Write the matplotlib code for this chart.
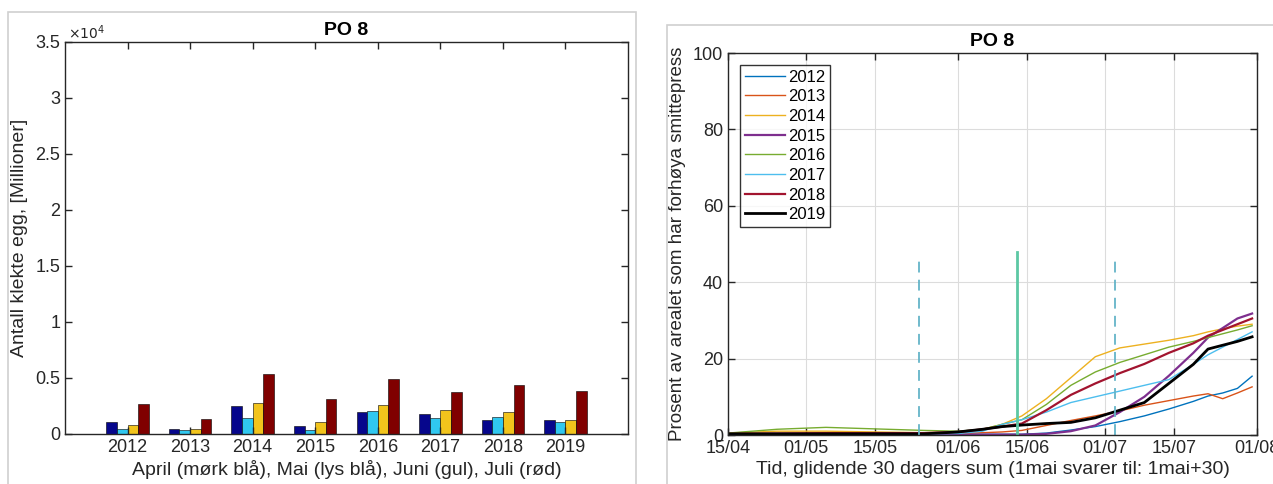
import numpy as np
import pandas as pd
import matplotlib
matplotlib.use("Agg")
import matplotlib.pyplot as plt
import matplotlib.dates as mdates
from matplotlib.patches import Rectangle
from matplotlib.ticker import FuncFormatter

plt.rcParams['font.family'] = ['Liberation Sans', 'DejaVu Sans']
plt.rcParams['font.size'] = 13

# --- left panel: hatched eggs per month (millions) ---
years = ['2012', '2013', '2014', '2015', '2016', '2017', '2018', '2019']
april = [1040, 450, 2530, 740, 1960, 1790, 1220, 1220]
mai = [480, 390, 1430, 390, 2020, 1430, 1520, 1070]
juni = [770, 450, 2770, 1040, 2560, 2170, 1960, 1220]
juli = [2680, 1340, 5390, 3130, 4940, 3720, 4400, 3870]
month_colors = ['#06068c', '#30c8f0', '#f2c41c', '#800000']

# --- right panel: % of area with elevated infection pressure ---
start = pd.Timestamp('2014-04-15')
days = [0, 10, 20, 30, 40, 47, 52, 56, 60, 65, 70, 75, 80, 85, 90, 95, 98, 101, 104, 107]
pct = {
    '2012': [0.2, 0.2, 0.2, 0.2, 0.2, 0.2, 0.2, 0.2, 0.2, 0.5, 1.3, 2.2, 3.5, 5.0, 6.8, 8.8, 10.2, 11.0, 12.2, 15.4],
    '2013': [0.3, 0.3, 0.3, 0.3, 0.3, 0.4, 0.6, 0.8, 1.2, 2.5, 3.8, 5.0, 6.3, 7.8, 9.0, 10.2, 10.8, 9.5, 11.0, 12.6],
    '2014': [0.5, 1.0, 1.0, 0.8, 0.6, 0.8, 1.5, 2.8, 5.0, 9.5, 15.0, 20.5, 22.8, 23.8, 24.8, 26.0, 27.0, 27.8, 28.5, 29.0],
    '2015': [0.1, 0.1, 0.1, 0.1, 0.1, 0.1, 0.1, 0.1, 0.1, 0.3, 1.0, 2.5, 6.0, 10.0, 15.5, 21.5, 25.5, 28.0, 30.5, 31.8],
    '2016': [0.5, 1.5, 2.0, 1.6, 1.2, 1.0, 1.5, 2.8, 4.0, 8.0, 13.0, 16.5, 19.0, 21.0, 23.0, 24.5, 25.5, 26.5, 27.5, 28.6],
    '2017': [0.2, 0.2, 0.2, 0.2, 0.3, 0.4, 1.0, 2.8, 4.0, 6.0, 8.5, 10.0, 11.5, 13.0, 14.5, 18.5, 21.0, 23.0, 25.0, 27.0],
    '2018': [0.3, 0.4, 0.5, 0.5, 0.5, 0.8, 1.5, 2.2, 3.0, 6.5, 10.5, 13.5, 16.2, 18.6, 21.5, 24.0, 26.0, 27.5, 29.0, 30.5],
    '2019': [0.3, 0.3, 0.3, 0.3, 0.3, 0.8, 1.5, 2.2, 2.6, 3.0, 3.3, 4.5, 6.5, 8.5, 13.5, 18.5, 22.5, 23.5, 24.5, 25.7],
}
line_colors = ['#0072BD', '#D95319', '#EDB120', '#7E2F8E', '#77AC30', '#4DBEEE', '#A2142F', '#000000']
line_widths = [1.0, 1.0, 1.0, 1.6, 1.0, 1.0, 1.6, 2.0]

# vertical marker lines (day offset, height, style)
vline_days = [39, 59, 79]
vline_top = [46, 48, 46]
vline_style = ['--', '-', '--']
vline_color = ['#64b4c8', '#5cc8a4', '#64b4c8']
vline_lw = [1.3, 2.0, 1.3]

W, H = 1273, 484
fig = plt.figure(figsize=(W / 100, H / 100), dpi=100)

# grey panel frames
fig.patches.append(Rectangle((8 / W, -0.1), 628 / W, 1.1 - 12 / H, transform=fig.transFigure,
                             fill=False, ec='#d0d0d0', lw=1.2))
fig.patches.append(Rectangle((667 / W, -0.1), 0.6, 1.1 - 25 / H, transform=fig.transFigure,
                             fill=False, ec='#d0d0d0', lw=1.2))

dark = '#262626'

def style_box(ax):
    for s in ax.spines.values():
        s.set_color(dark)
        s.set_linewidth(1.0)
    ax.tick_params(direction='in', top=True, right=True, length=5, color=dark,
                   labelcolor=dark, labelsize=13, width=1.0)

# ---------- left ----------
ax1 = fig.add_axes([65 / W, 1 - 434 / H, 563 / W, 392 / H])
x = np.arange(1, len(years) + 1)
bw = 0.17
for i, vals in enumerate([april, mai, juni, juli]):
    ax1.bar(x + (i - 1.5) * bw, vals, width=bw, color=month_colors[i],
            edgecolor='black', linewidth=0.4)
ax1.set_xlim(0, 9)
ax1.set_ylim(0, 35000)
ax1.set_xticks(x)
ax1.set_xticklabels(years)
ax1.set_yticks(np.arange(0, 35001, 5000))
ax1.yaxis.set_major_formatter(FuncFormatter(lambda v, p: '%g' % (v / 1e4)))
ax1.text(0.005, 1.0, r'$\times10^4$', transform=ax1.transAxes, ha='left', va='bottom',
         fontsize=10, color=dark)
style_box(ax1)
ax1.set_title('PO 8', fontweight='bold', fontsize=14, pad=5, color='black')
ax1.set_ylabel('Antall klekte egg, [Millioner]', color=dark, fontsize=14, labelpad=5)
ax1.set_xlabel('April (mørk blå), Mai (lys blå), Juni (gul), Juli (rød)', color=dark,
               fontsize=14, labelpad=3)

# ---------- right ----------
ax2 = fig.add_axes([728 / W, 1 - 435 / H, 529 / W, 382 / H])
dates = start + pd.to_timedelta(days, unit='D')
for k, (yr, vals) in enumerate(pct.items()):
    ax2.plot(dates, vals, color=line_colors[k], lw=line_widths[k], label=yr)
for d, top, ls, c, lw in zip(vline_days, vline_top, vline_style, vline_color, vline_lw):
    xd = start + pd.Timedelta(days=d)
    ax2.plot([xd, xd], [0, top], ls=ls, color=c, lw=lw, dashes=(6, 4) if ls == '--' else (None, None))

tick_dates = pd.to_datetime(['2014-04-15', '2014-05-01', '2014-05-15', '2014-06-01',
                             '2014-06-15', '2014-07-01', '2014-07-15', '2014-08-01'])
ax2.set_xticks(tick_dates)
ax2.xaxis.set_major_formatter(mdates.DateFormatter('%d/%m'))
ax2.set_xlim(tick_dates[0], tick_dates[-1])
ax2.set_ylim(0, 100)
ax2.set_yticks(np.arange(0, 101, 20))
ax2.grid(True, color='#dcdcdc', lw=0.8)
ax2.set_axisbelow(True)
style_box(ax2)
ax2.set_title('PO 8', fontweight='bold', fontsize=14, pad=5, color='black')
ax2.set_ylabel('Prosent av arealet som har forhøya smittepress', color=dark, fontsize=13.5,
               labelpad=5)
ax2.set_xlabel('Tid, glidende 30 dagers sum (1mai svarer til: 1mai+30)', color=dark,
               fontsize=14, labelpad=3)
leg = ax2.legend(loc='upper left', fontsize=12, frameon=True, fancybox=False,
                 edgecolor='black', handlelength=2.4, handletextpad=0.2,
                 labelspacing=0.28, borderpad=0.3, borderaxespad=0.7)
leg.get_frame().set_linewidth(1.0)

fig.savefig('out.png', dpi=100)
